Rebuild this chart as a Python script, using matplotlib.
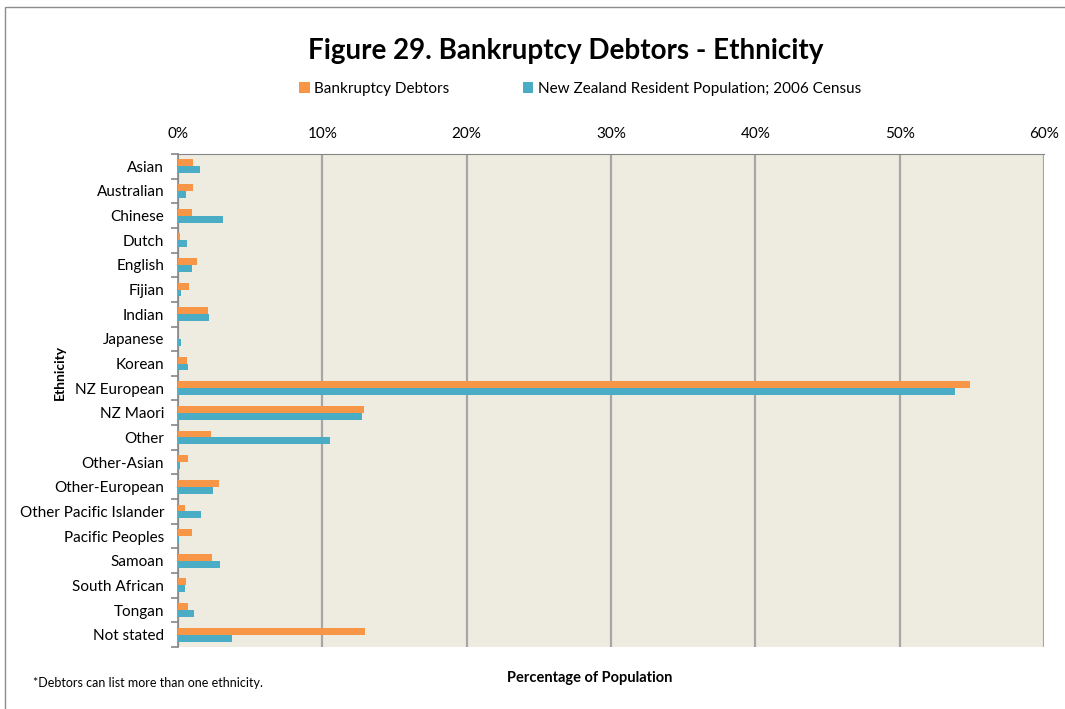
import numpy as np
import matplotlib
matplotlib.use("Agg")
import matplotlib.pyplot as plt
from matplotlib.patches import Rectangle

plt.rcParams["font.family"] = ["Lato", "DejaVu Sans"]

# ── Data (percent of group) ───────────────────────────────────────────────────
ethnicities = ["Asian", "Australian", "Chinese", "Dutch", "English", "Fijian",
               "Indian", "Japanese", "Korean", "NZ European", "NZ Maori",
               "Other", "Other-Asian", "Other-European", "Other Pacific Islander",
               "Pacific Peoples", "Samoan", "South African", "Tongan", "Not stated"]
debtors    = [1.04, 1.02, 0.97, 0.16, 1.34, 0.74, 2.10, 0.03, 0.60, 54.86,
              12.87, 2.29, 0.72, 2.82, 0.46, 0.97, 2.34, 0.56, 0.67, 12.94]
population = [1.53, 0.56, 3.13, 0.60, 0.97, 0.19, 2.17, 0.23, 0.67, 53.82,
              12.76, 10.50, 0.14, 2.41, 1.57, 0.10, 2.92, 0.46, 1.11, 3.77]

orange = "#F79646"
blue   = "#4BACC6"

fig = plt.figure(figsize=(10.65, 7.09), dpi=100)
ax = fig.add_axes([178 / 1065, 1 - 647 / 709, (1044 - 178) / 1065, (647 - 154) / 709])

# chart border
fig.patches.append(Rectangle((5 / 1065, -0.01), 1.1, 1 - 7 / 709 + 0.01,
                             transform=fig.transFigure, fill=False,
                             edgecolor="#8C8C8C", linewidth=1.0))

y = np.arange(len(ethnicities))
h = 0.28
ax.barh(y - h / 2, debtors, height=h, color=orange, label="Bankruptcy Debtors", zorder=3)
ax.barh(y + h / 2, population, height=h, color=blue,
        label="New Zealand Resident Population; 2006 Census", zorder=3)

ax.set_facecolor("#EEECE1")
ax.set_xlim(0, 60)
ax.set_ylim(len(ethnicities) - 0.5, -0.5)

ax.set_xticks(np.arange(0, 61, 10))
ax.set_xticklabels([f"{v}%" for v in range(0, 61, 10)])
ax.xaxis.tick_top()
ax.tick_params(axis="x", length=0, pad=9, labelsize=11)
ax.grid(axis="x", color="#A6A6A6", linewidth=1.6, zorder=0)

ax.set_yticks(y)
ax.set_yticklabels(ethnicities)
ax.set_yticks(np.arange(-0.5, len(ethnicities)), minor=True)
ax.tick_params(axis="y", which="major", length=0, pad=10, labelsize=11)
ax.tick_params(axis="y", which="minor", length=5, color="#868686", width=1.2)

for side in ["bottom", "right"]:
    ax.spines[side].set_visible(False)
ax.spines["top"].set_color("#868686")
ax.spines["left"].set_color("#868686")
ax.spines["left"].set_linewidth(1.2)

fig.text(566 / 1065, 1 - 51 / 709, "Figure 29. Bankruptcy Debtors - Ethnicity",
         ha="center", va="center", fontsize=20, fontweight="bold")
fig.legend(loc="center", bbox_to_anchor=(580 / 1065, 1 - 89 / 709), ncol=2,
           frameon=False, fontsize=11, handlelength=0.7, handleheight=0.7,
           handletextpad=0.3, columnspacing=4.8)

fig.text(60 / 1065, 1 - 372 / 709, "Ethnicity", rotation=90, ha="center",
         va="center", fontsize=10, fontweight="bold")
fig.text(590 / 1065, 1 - 678 / 709, "Percentage of Population", ha="center",
         va="center", fontsize=10.5, fontweight="bold")
fig.text(33 / 1065, 1 - 683 / 709, "*Debtors can list more than one ethnicity.",
         ha="left", va="center", fontsize=9)

fig.savefig("out.png", dpi=100)
